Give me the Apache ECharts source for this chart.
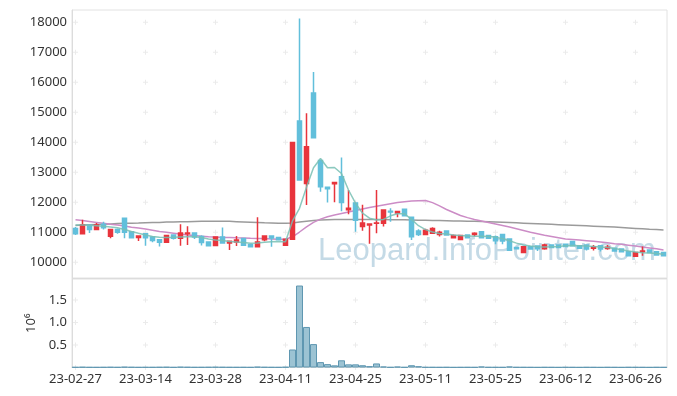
<!DOCTYPE html>
<html><head><meta charset="utf-8">
<script src="https://cdn.jsdelivr.net/npm/echarts@6/dist/echarts.min.js"></script>
<style>html,body{margin:0;padding:0;background:#fff}#c{width:677px;height:396px}</style>
</head><body><div id="c"></div>
<script>
const categories = ['23-02-27','23-02-28','23-03-02','23-03-03','23-03-06','23-03-07','23-03-08','23-03-09','23-03-10','23-03-13',
'23-03-14','23-03-15','23-03-16','23-03-17','23-03-20','23-03-21','23-03-22','23-03-23','23-03-24','23-03-27',
'23-03-28','23-03-29','23-03-30','23-03-31','23-04-03','23-04-04','23-04-05','23-04-06','23-04-07','23-04-10',
'23-04-11','23-04-12','23-04-13','23-04-14','23-04-17','23-04-18','23-04-19','23-04-20','23-04-21','23-04-24',
'23-04-25','23-04-26','23-04-27','23-04-28','23-05-02','23-05-03','23-05-04','23-05-08','23-05-09','23-05-10',
'23-05-11','23-05-12','23-05-15','23-05-16','23-05-17','23-05-18','23-05-19','23-05-22','23-05-23','23-05-24',
'23-05-25','23-05-26','23-05-30','23-05-31','23-06-01','23-06-02','23-06-05','23-06-07','23-06-08','23-06-09',
'23-06-12','23-06-13','23-06-14','23-06-15','23-06-16','23-06-19','23-06-20','23-06-21','23-06-22','23-06-23',
'23-06-26','23-06-27','23-06-28','23-06-29','23-06-30'];

const openV = [11130,10950,11240,11090,11270,10870,11090,11470,11020,10830,
10950,10840,10750,10670,10910,10800,10950,10980,10860,10680,
10560,10840,10640,10680,10790,10590,10520,10750,10880,10830,
10570,10770,14710,12630,15640,13390,12500,12620,12850,11750,
11980,11190,11240,11300,11300,11700,11640,11770,11500,11040,
10930,10970,10930,11040,10820,10760,10910,10930,11020,10890,
10850,10930,10780,10490,10330,10520,10540,10450,10580,10580,
10600,10690,10550,10580,10470,10550,10460,10470,10440,10350,
10200,10350,10410,10350,10330];
const closeV = [10950,11240,11090,11240,11150,11090,11000,11000,10820,10880,
10820,10730,10670,10890,10800,10980,10980,10840,10660,10550,
10840,10640,10700,10740,10570,10520,10680,10880,10810,10750,
10770,13990,12740,13850,14150,12520,12450,12660,11990,11800,
11400,11310,11280,11310,11740,11680,11690,11550,10850,10930,
11070,11130,11000,10910,10890,10890,10820,10970,10820,10800,
10720,10710,10400,10450,10520,10440,10450,10580,10490,10490,
10530,10550,10470,10440,10510,10440,10500,10380,10350,10220,
10330,10380,10330,10240,10220];
const lowV = [10910,10950,10980,11080,11090,10800,10950,10800,10800,10710,
10550,10670,10530,10670,10760,10550,10580,10780,10560,10540,
10560,10620,10410,10540,10570,10500,10520,10700,10520,10750,
10570,10770,12740,11910,14150,12350,11990,12000,11700,11600,
11020,11050,10620,10970,11190,11350,11500,11540,10740,10880,
10920,10950,10860,10900,10790,10750,10810,10860,10810,10790,
10600,10600,10390,10440,10330,10430,10380,10420,10480,10480,
10520,10540,10460,10390,10390,10360,10420,10370,10340,10210,
10200,10220,10320,10230,10210];
const highV = [11180,11420,11250,11310,11350,11090,11130,11470,11030,10880,
10980,10880,10760,10910,10920,11270,11200,11000,10900,10690,
10870,11160,10700,10880,10790,10590,11500,10900,10900,10850,
10770,13990,18130,14970,16340,13390,12500,12670,13490,12410,
11980,11920,11290,12410,11760,11800,11720,11780,11500,11100,
11120,11170,11050,11050,10930,10890,10920,11000,11030,10900,
10890,10950,10790,10500,10530,10530,10550,10620,10590,10590,
10610,10700,10560,10590,10580,10560,10580,10480,10450,10360,
10340,10530,10420,10360,10340];
const volumeV = [9000,12000,8000,7000,9000,11000,8000,15000,10000,7000,
9000,8000,10000,12000,7000,14000,11000,8000,9000,10000,
12000,10000,9000,8000,9000,7000,16000,10000,8000,7000,
12000,400000,1820000,900000,520000,120000,75000,48000,160000,70000,
70000,50000,30000,90000,22000,8000,20000,8000,50000,28000,
9000,8000,7000,9000,6000,7000,8000,7000,22000,9000,
8000,7000,22000,9000,8000,7000,6000,8000,7000,6000,
9000,7000,6000,8000,7000,6000,8000,7000,6000,9000,
8000,7000,6000,8000,7000];
const ma5 = [11243,11243,11235,11220,11200,11177,11153,11093,11027,10967,
10910,10860,10833,10827,10833,10843,10853,10853,10827,10777,
10743,10727,10693,10677,10660,10633,10643,10667,10683,10693,
10687,11380,11800,12500,13150,13460,13150,13160,12960,12410,
11970,11640,11470,11410,11430,11550,11620,11620,11430,11220,
11090,11010,10960,10940,10910,10890,10880,10870,10870,10860,
10840,10790,10720,10640,10580,10540,10520,10510,10520,10530,
10550,10560,10550,10540,10530,10510,10490,10460,10420,10380,
10340,10320,10310,10290,10270];
const ma20 = [11420,11390,11360,11330,11300,11267,11240,11210,11170,11140,
11110,11070,11030,11000,10970,10940,10910,10890,10870,10850,
10840,10830,10825,10815,10810,10800,10795,10790,10780,10770,
10770,10850,11010,11180,11330,11440,11520,11580,11630,11680,
11730,11780,11830,11870,11910,11950,11990,12020,12040,12055,
12060,11990,11880,11760,11660,11560,11490,11430,11380,11330,
11280,11230,11180,11120,11060,11000,10950,10900,10860,10820,
10780,10760,10740,10720,10700,10680,10650,10620,10600,10570,
10540,10510,10480,10450,10410];
const ma120 = [11230,11240,11250,11260,11270,11280,11290,11300,11305,11310,
11320,11325,11330,11340,11345,11350,11355,11360,11365,11370,
11370,11370,11365,11355,11345,11335,11325,11315,11310,11305,
11300,11310,11340,11370,11395,11410,11420,11425,11430,11430,
11430,11430,11430,11425,11425,11420,11420,11415,11410,11405,
11400,11395,11390,11385,11380,11375,11370,11365,11360,11355,
11345,11335,11325,11315,11305,11295,11285,11275,11265,11255,
11245,11235,11225,11215,11205,11195,11185,11175,11160,11145,
11130,11115,11100,11090,11080];
const priceTicks = [10000,11000,12000,13000,14000,15000,16000,17000,18000];
const volumeTicks = [0,500000,1000000,1500000];

const candleData = categories.map((d,i)=>[openV[i],closeV[i],lowV[i],highV[i]]);
const tickIdx = categories.map((d,i)=>i).filter(i=>i%10===0);
const crossMain = [], crossVol = [];
tickIdx.forEach(i=>{ priceTicks.forEach(v=>crossMain.push([i,v])); volumeTicks.forEach(v=>crossVol.push([i,v])); });
const plus = 'path://M4,0h2v4h4v2h-4v4h-2v-4h-4v-2h4z';
const FONT = 'Noto Sans';

const chart = echarts.init(document.getElementById('c'));
chart.setOption({
  animation:false,
  textStyle:{fontFamily:FONT},
  grid:[
    {left:72,right:10,top:10,height:268,show:true,borderColor:'#e2e2e2',borderWidth:1},
    {left:72,right:10,top:279,height:88.5,show:true,borderColor:'#e2e2e2',borderWidth:1}
  ],
  graphic:[{type:'text',x:318,y:251,z:0,silent:true,
    style:{text:'Leopard.InfoPointer.com',font:'31px "Liberation Sans"',fill:'#c4dae6',verticalAlign:'middle'}}],
  xAxis:[
    {type:'category',gridIndex:0,data:categories,boundaryGap:true,
     axisLine:{show:true,lineStyle:{color:'#dcdcdc'}},axisTick:{show:false},axisLabel:{show:false},splitLine:{show:false}},
    {type:'category',gridIndex:1,data:categories,boundaryGap:true,
     axisLine:{show:true,lineStyle:{color:'#dcdcdc'}},axisTick:{show:false},splitLine:{show:false},
     axisLabel:{interval:9,fontSize:13,color:'#333',margin:5,fontFamily:FONT}}
  ],
  yAxis:[
    {type:'value',gridIndex:0,min:9477,max:18410,scale:true,
     axisLine:{show:true,lineStyle:{color:'#dcdcdc'}},axisTick:{show:false},splitLine:{show:false},
     axisLabel:{customValues:priceTicks,fontSize:13,color:'#333',margin:5,fontFamily:FONT,formatter:v=>String(v)}},
    {type:'value',gridIndex:1,min:0,max:1965000,interval:500000,
     name:'10\u2076',nameLocation:'middle',nameRotate:90,nameGap:34,
     nameTextStyle:{fontSize:13,color:'#333',fontFamily:FONT},
     axisLine:{show:true,lineStyle:{color:'#dcdcdc'}},axisTick:{show:false},splitLine:{show:false},
     axisLabel:{fontSize:13,color:'#333',margin:5,fontFamily:FONT,showMaxLabel:false,
       formatter:v=> (v<=0||v>1900000)?'':(v/1e6).toFixed(1)}}
  ],
  series:[
    {type:'scatter',xAxisIndex:0,yAxisIndex:0,data:crossMain,symbol:plus,symbolSize:5,silent:true,z:1,
     itemStyle:{color:'#e6e6e6'}},
    {type:'scatter',xAxisIndex:1,yAxisIndex:1,data:crossVol,symbol:plus,symbolSize:5,silent:true,z:1,
     itemStyle:{color:'#e6e6e6'}},
    {type:'line',xAxisIndex:0,yAxisIndex:0,data:ma120,symbol:'none',z:3,lineStyle:{color:'#9b9b9b',width:1.5}},
    {type:'line',xAxisIndex:0,yAxisIndex:0,data:ma20,symbol:'none',z:3,lineStyle:{color:'#cc8cc6',width:1.5}},
    {type:'candlestick',xAxisIndex:0,yAxisIndex:0,data:candleData,barWidth:'70%',z:4,
     itemStyle:{color:'#e8343c',color0:'#62bfdb',borderColor:'#e8343c',borderColor0:'#62bfdb',borderColorDoji:'#e8343c',borderWidth:1.5}},
    {type:'line',xAxisIndex:0,yAxisIndex:0,data:ma5,symbol:'none',z:5,lineStyle:{color:'rgba(120,192,180,0.85)',width:1.5}},
    {type:'bar',xAxisIndex:1,yAxisIndex:1,data:volumeV,barWidth:'100%',z:3,
     itemStyle:{color:'#9cc3d3',borderColor:'#5f97b1',borderWidth:1}}
  ]
});
</script></body></html>
